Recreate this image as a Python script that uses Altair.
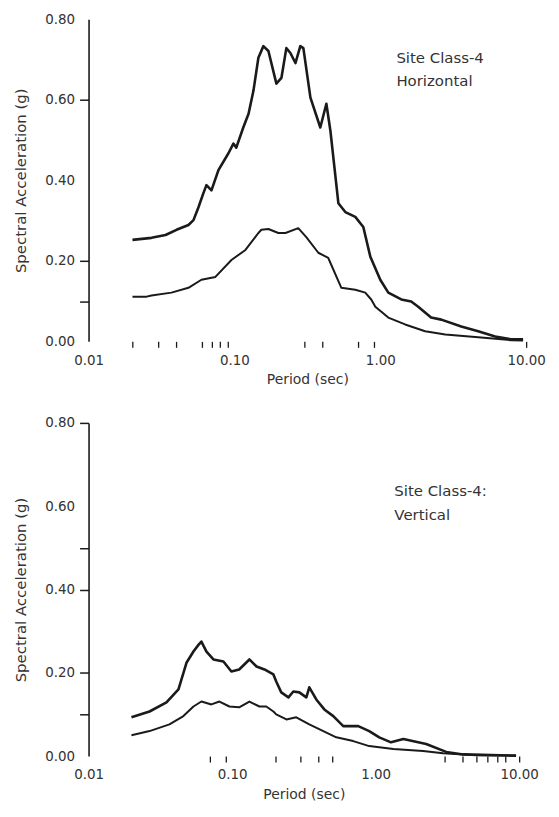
import altair as alt
import pandas as pd

# ---------------- data ----------------
top_upper_period = [0.020, 0.027, 0.0337, 0.0401, 0.0484, 0.0524, 0.0567, 0.0613, 0.0643, 0.0696,
                    0.0777, 0.091, 0.0984, 0.103, 0.115, 0.125, 0.135, 0.146, 0.158, 0.171,
                    0.194, 0.210, 0.227, 0.242, 0.262, 0.283, 0.297, 0.332, 0.388, 0.427,
                    0.455, 0.516, 0.576, 0.674, 0.765, 0.855, 1.00, 1.135, 1.393, 1.63,
                    1.82, 2.23, 2.62, 3.59, 4.69, 6.13, 7.89, 9.53]
top_upper_sa = [0.252, 0.257, 0.264, 0.277, 0.289, 0.301, 0.333, 0.368, 0.388, 0.375,
                0.425, 0.467, 0.491, 0.481, 0.531, 0.565, 0.622, 0.704, 0.733, 0.721,
                0.640, 0.654, 0.728, 0.716, 0.691, 0.733, 0.728, 0.605, 0.531, 0.590,
                0.523, 0.343, 0.321, 0.309, 0.284, 0.210, 0.153, 0.121, 0.104, 0.099,
                0.086, 0.059, 0.054, 0.037, 0.025, 0.012, 0.005, 0.005]

top_lower_period = [0.020, 0.025, 0.027, 0.037, 0.0484, 0.0594, 0.0741, 0.0954, 0.119, 0.146,
                    0.153, 0.171, 0.200, 0.224, 0.274, 0.311, 0.376, 0.440, 0.541, 0.674,
                    0.789, 0.867, 0.925, 1.135, 1.48, 2.03, 2.79, 4.69, 7.89, 9.53]
top_lower_sa = [0.111, 0.111, 0.114, 0.121, 0.133, 0.153, 0.160, 0.202, 0.227, 0.269,
                0.277, 0.279, 0.269, 0.269, 0.281, 0.259, 0.220, 0.207, 0.133, 0.128,
                0.121, 0.104, 0.086, 0.059, 0.042, 0.025, 0.017, 0.010, 0.003, 0.002]

bot_upper_period = [0.0199, 0.0266, 0.0349, 0.0423, 0.0481, 0.0538, 0.0583, 0.0611, 0.0663, 0.0741,
                    0.0870, 0.0989, 0.112, 0.132, 0.148, 0.168, 0.194, 0.203, 0.220, 0.247,
                    0.267, 0.294, 0.329, 0.345, 0.386, 0.439, 0.507, 0.595, 0.757, 0.902,
                    1.06, 1.28, 1.56, 2.25, 3.10, 4.07, 9.51]
bot_upper_sa = [0.093, 0.107, 0.129, 0.160, 0.224, 0.251, 0.267, 0.275, 0.251, 0.232,
                0.227, 0.203, 0.208, 0.232, 0.215, 0.208, 0.196, 0.179, 0.153, 0.141,
                0.155, 0.153, 0.141, 0.165, 0.136, 0.112, 0.096, 0.072, 0.072, 0.060,
                0.045, 0.033, 0.041, 0.029, 0.010, 0.004, 0.001]

bot_lower_period = [0.0199, 0.0266, 0.0366, 0.0458, 0.0538, 0.0611, 0.0718, 0.0816, 0.0958, 0.112,
                    0.132, 0.155, 0.173, 0.194, 0.203, 0.239, 0.280, 0.345, 0.432, 0.532,
                    0.698, 0.902, 1.33, 2.14, 2.95, 5.01, 9.51]
bot_lower_sa = [0.050, 0.060, 0.076, 0.096, 0.119, 0.131, 0.124, 0.131, 0.119, 0.117,
                0.131, 0.119, 0.119, 0.107, 0.100, 0.088, 0.093, 0.076, 0.060, 0.045,
                0.036, 0.024, 0.017, 0.012, 0.007, 0.002, 0.001]

# axis labels and visible tick marks
x_label_values = [0.01, 0.1, 1, 10]
y_label_values = [0, 0.2, 0.4, 0.6, 0.8]
y_all_values = [0, 0.1, 0.2, 0.3, 0.4, 0.5, 0.6, 0.7, 0.8]
top_x_ticks = [0.02, 0.03, 0.04, 0.06, 0.07, 0.08, 0.09, 0.3, 0.4, 0.7, 0.9, 10]
bot_x_ticks = [0.07, 0.09, 0.2, 0.3, 0.4, 0.5, 3, 4, 5, 6, 7, 8, 10]
top_y_ticks = [0.1, 0.2, 0.6]
bot_y_ticks = [0.1, 0.2, 0.4, 0.5, 0.8]

top_note = "Site Class-4\nHorizontal"
top_note_pos = (1.29, 0.721)
bot_note = "Site Class-4:\nVertical"
bot_note_pos = (1.35, 0.652)

FONT = "DejaVu Sans"
INK = "#1a1a1a"
TEXT = "#333333"


def make_df(up_p, up_s, lo_p, lo_s):
    return pd.concat([
        pd.DataFrame({"period": up_p, "sa": up_s, "series": "upper"}),
        pd.DataFrame({"period": lo_p, "sa": lo_s, "series": "lower"}),
    ], ignore_index=True)


def panel(df, x_ticks, y_ticks, note, note_pos, width, height, line_h):
    x_values = sorted(set(x_label_values + x_ticks))
    x_axis = alt.Axis(
        values=x_values,
        labelExpr=f"indexof({x_label_values}, datum.value) >= 0 ? format(datum.value, '.2f') : ''",
        tickOpacity={"condition": {"test": f"indexof({x_ticks}, datum.value) >= 0", "value": 1}, "value": 0},
        domain=False, grid=False, tickSize=6, tickWidth=1.3, labelPadding=6,
        labelFlush=False, labelOverlap=False, labelFontSize=13.5,
        titleFontSize=14, titlePadding=6,
    )
    y_axis = alt.Axis(
        values=y_all_values,
        labelExpr=f"indexof({y_label_values}, datum.value) >= 0 ? format(datum.value, '.2f') : ''",
        tickOpacity={"condition": {"test": f"indexof({y_ticks}, datum.value) >= 0", "value": 1}, "value": 0},
        domain=True, domainWidth=1.6, grid=False, tickSize=9, tickWidth=1.5, labelPadding=5,
        labelFlush=False, labelOverlap=False, labelFontSize=13.5,
        titleFontSize=15, titlePadding=16,
    )
    x_enc = alt.X("period:Q", scale=alt.Scale(type="log", domain=[0.01, 10]),
                  axis=x_axis, title="Period (sec)")
    y_enc = alt.Y("sa:Q", scale=alt.Scale(domain=[0, 0.8], nice=False),
                  axis=y_axis, title="Spectral Acceleration (g)")
    lines = alt.Chart(df).mark_line(color=INK, strokeJoin="round").encode(
        x=x_enc, y=y_enc, detail="series:N",
        strokeWidth=alt.StrokeWidth("series:N",
                                    scale=alt.Scale(domain=["upper", "lower"], range=[2.6, 2.0]),
                                    legend=None),
    )
    note_df = pd.DataFrame({"period": [note_pos[0]], "sa": [note_pos[1]], "label": [note]})
    text = alt.Chart(note_df).mark_text(
        align="left", baseline="top", lineBreak="\n", lineHeight=line_h,
        fontSize=15, font=FONT, color=TEXT,
    ).encode(
        x=alt.X("period:Q", title="Period (sec)"),
        y=alt.Y("sa:Q", title="Spectral Acceleration (g)"),
        text="label:N",
    )
    return alt.layer(lines, text).properties(width=width, height=height)


top = panel(make_df(top_upper_period, top_upper_sa, top_lower_period, top_lower_sa),
            top_x_ticks, top_y_ticks, top_note, top_note_pos, 440, 324, 23)
bottom = panel(make_df(bot_upper_period, bot_upper_sa, bot_lower_period, bot_lower_sa),
               bot_x_ticks, bot_y_ticks, bot_note, bot_note_pos, 433, 335, 24)

chart = alt.vconcat(top, bottom, spacing=29).configure_axis(
    labelFont=FONT, titleFont=FONT, titleFontWeight="normal",
    labelColor=TEXT, titleColor=TEXT, domainColor=INK, tickColor=INK,
).configure_view(stroke=None).properties(
    background="white",
    padding={"left": 5, "top": 2, "right": 5, "bottom": 2},
)

chart.save("out.html", embed_options={"renderer": "svg", "actions": False})
